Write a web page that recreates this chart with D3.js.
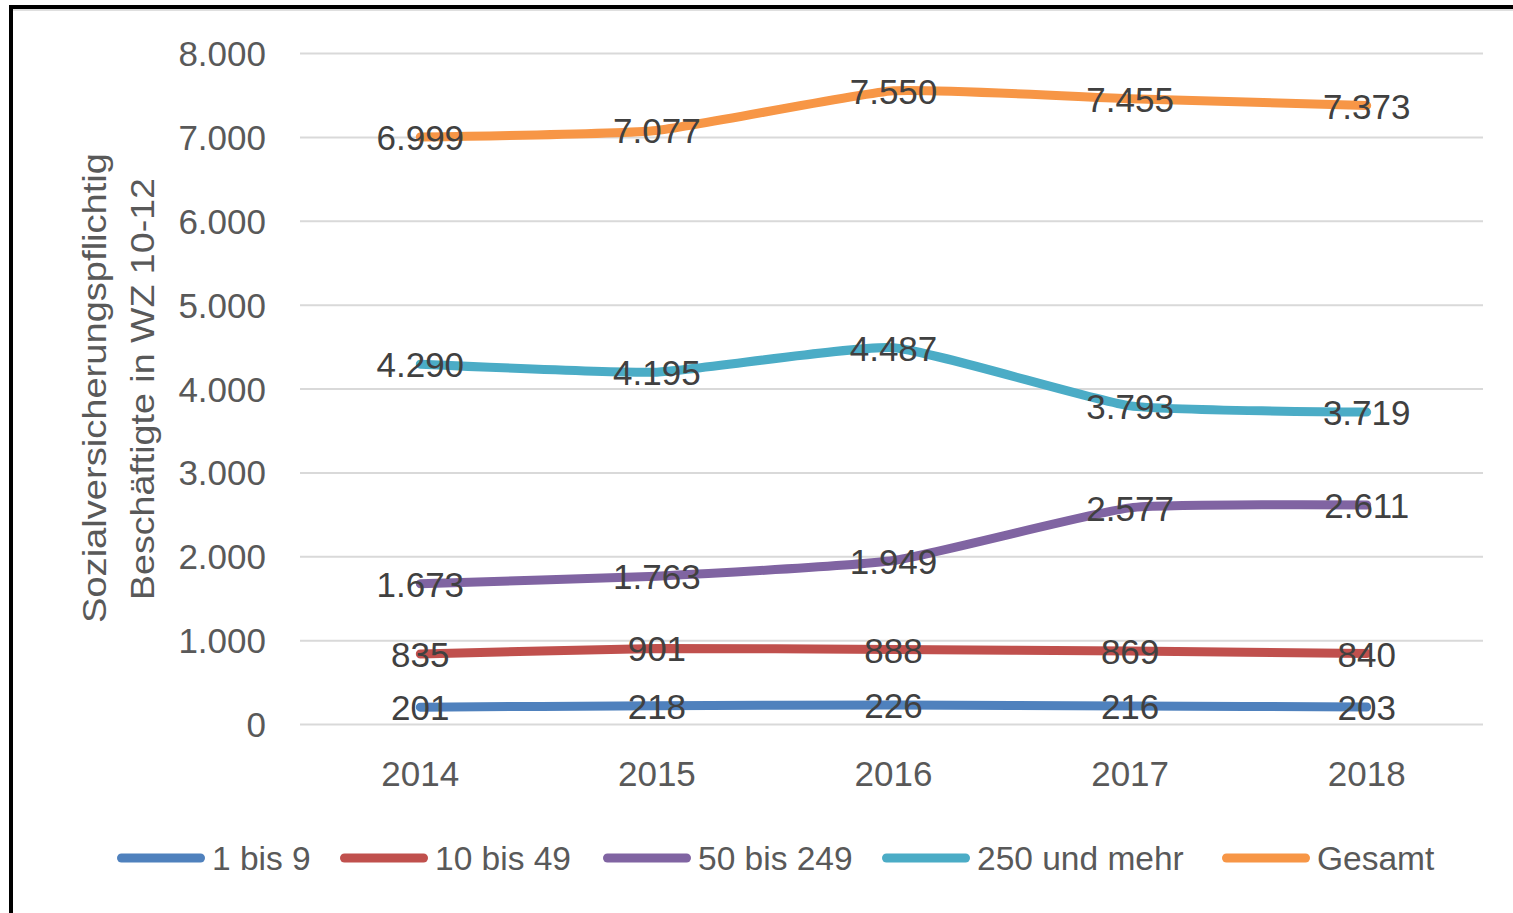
<!DOCTYPE html>
<html>
<head>
<meta charset="utf-8">
<script src="https://cdn.jsdelivr.net/npm/d3@7"></script>
<style>
  html, body { margin: 0; padding: 0; background: #fff; }
  svg { display: block; }
  text { font-family: "Liberation Sans", Arial, sans-serif; }
</style>
</head>
<body>
<svg id="chart" width="1513" height="913"></svg>
<script>
const years = ["2014", "2015", "2016", "2017", "2018"];
const seriesNames = ["1 bis 9", "10 bis 49", "50 bis 249", "250 und mehr", "Gesamt"];
const seriesColors = ["#4f81bd", "#c0504d", "#8064a2", "#4bacc6", "#f79646"];
const values_1bis9 = [201, 218, 226, 216, 203];
const values_10bis49 = [835, 901, 888, 869, 840];
const values_50bis249 = [1673, 1763, 1949, 2577, 2611];
const values_250undMehr = [4290, 4195, 4487, 3793, 3719];
const values_gesamt = [6999, 7077, 7550, 7455, 7373];
const yTicks = [0, 1000, 2000, 3000, 4000, 5000, 6000, 7000, 8000];
const yTitleLines = ["Sozialversicherungspflichtig", "Beschäftigte in WZ 10-12"];

const allSeries = [values_1bis9, values_10bis49, values_50bis249, values_250undMehr, values_gesamt];

const svg = d3.select("#chart");
const W = 1513, H = 913;
const plot = { left: 300, right: 1483, top: 53, bottom: 724 };

const fmt = v => d3.format(",")(v).replace(/,/g, ".");

// frame (cropped border)
svg.append("rect").attr("x", 0).attr("y", 0).attr("width", W).attr("height", H).attr("fill", "#fff");
svg.append("line").attr("x1", 11).attr("x2", W).attr("y1", 7).attr("y2", 7)
  .attr("stroke", "#000").attr("stroke-width", 4);
svg.append("line").attr("x1", 9.5).attr("x2", W).attr("y1", 10).attr("y2", 10)
  .attr("stroke", "#bfbfbf").attr("stroke-width", 1);
svg.append("line").attr("x1", 11).attr("x2", 11).attr("y1", 5).attr("y2", H)
  .attr("stroke", "#000").attr("stroke-width", 4);

const x = d3.scaleBand().domain(years).range([plot.left + 2, plot.right + 2]).padding(0);
const xc = d => x(d) + x.bandwidth() / 2;
const y = d3.scaleLinear().domain([0, 8000]).range([plot.bottom, plot.top]);

// gridlines + y tick labels
const yAxis = d3.axisLeft(y).tickValues(yTicks).tickSize(-(plot.right - plot.left)).tickFormat(fmt).tickPadding(34);
const gy = svg.append("g").attr("transform", `translate(${plot.left},0)`).call(yAxis);
gy.select(".domain").remove();
gy.selectAll(".tick line").attr("stroke", "#d9d9d9").attr("stroke-width", 2);
gy.selectAll(".tick text").attr("fill", "#595959").attr("font-size", 35).attr("dy", "0.36em");

// x axis labels
const xAxis = d3.axisBottom(x).tickSize(0).tickPadding(0);
const gx = svg.append("g").attr("transform", `translate(0,${plot.bottom})`).call(xAxis);
gx.select(".domain").remove();
gx.selectAll(".tick text").attr("fill", "#595959").attr("font-size", 35).attr("dy", "0").attr("y", 62);

// y axis title
const gt = svg.append("g");
gt.append("text").attr("transform", `translate(106,388) rotate(-90)`)
  .attr("text-anchor", "middle").attr("fill", "#595959").attr("font-size", 34)
  .attr("textLength", 470).attr("lengthAdjust", "spacingAndGlyphs")
  .text(yTitleLines[0]);
gt.append("text").attr("transform", `translate(154,389) rotate(-90)`)
  .attr("text-anchor", "middle").attr("fill", "#595959").attr("font-size", 34)
  .attr("textLength", 422).attr("lengthAdjust", "spacingAndGlyphs")
  .text(yTitleLines[1]);

// lines
const line = d3.line().x((d, i) => xc(years[i])).y(d => y(d)).curve(d3.curveCardinal.tension(0.55));
const gl = svg.append("g");
allSeries.forEach((vals, si) => {
  gl.append("path").attr("d", line(vals)).attr("fill", "none")
    .attr("stroke", seriesColors[si]).attr("stroke-width", 9)
    .attr("stroke-linecap", "round").attr("stroke-linejoin", "round");
});

// data labels
const glab = svg.append("g");
allSeries.forEach((vals, si) => {
  glab.selectAll(null).data(vals).join("text")
    .attr("x", (d, i) => xc(years[i]))
    .attr("y", d => y(d) + 13)
    .attr("text-anchor", "middle")
    .attr("fill", "#404040").attr("font-size", 35)
    .text(d => fmt(d));
});

// legend
const legendItems = [
  { x: 117, w: 97 }, { x: 340, w: 137 }, { x: 603, w: 156 }, { x: 882, w: 216 }, { x: 1222, w: 117 }
];
const gleg = svg.append("g");
seriesNames.forEach((name, i) => {
  const lx = legendItems[i].x;
  gleg.append("line").attr("x1", lx + 4.5).attr("x2", lx + 83.5).attr("y1", 858).attr("y2", 858)
    .attr("stroke", seriesColors[i]).attr("stroke-width", 9).attr("stroke-linecap", "round");
  gleg.append("text").attr("x", lx + 95).attr("y", 870).attr("fill", "#595959")
    .attr("font-size", 33.5).text(name);
});
</script>
</body>
</html>
